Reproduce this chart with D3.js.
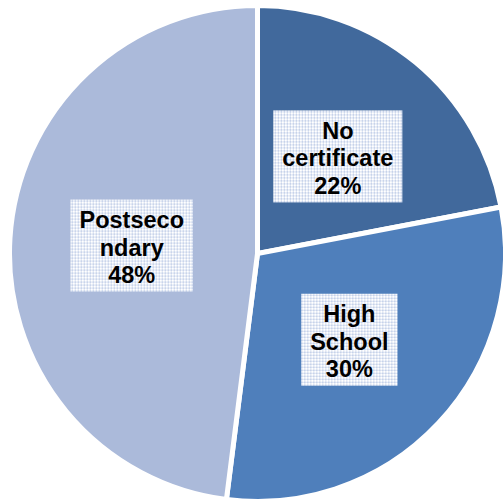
<!DOCTYPE html>
<html>
<head>
<meta charset="utf-8">
<script src="https://cdn.jsdelivr.net/npm/d3@7"></script>
<style>
  html, body { margin: 0; padding: 0; background: #fff; }
  svg { display: block; }
</style>
</head>
<body>
<svg id="chart" width="503" height="500"></svg>
<script>
// ---- data ----
const categories = ["No certificate", "High School", "Postsecondary"];
const values = [22, 30, 48];
const labelLines = [["No", "certificate", "22%"], ["High", "School", "30%"], ["Postseco", "ndary", "48%"]];
const colors = ["#41699C", "#4F7FBB", "#ABBADA"];

// ---- layout ----
const W = 503, H = 500;
const cx = 257.5, cy = 253.5, R = 248;
const svg = d3.select("#chart");

const defs = svg.append("defs");
const pat = defs.append("pattern").attr("id", "grid").attr("patternUnits", "userSpaceOnUse")
  .attr("width", 3).attr("height", 3);
pat.append("rect").attr("width", 3).attr("height", 3).attr("fill", "#ffffff");
pat.append("rect").attr("x", 0).attr("y", 0).attr("width", 3).attr("height", 1).attr("fill", "#d9e1f1");
pat.append("rect").attr("x", 0).attr("y", 0).attr("width", 1).attr("height", 3).attr("fill", "#d9e1f1");
pat.append("rect").attr("x", 0).attr("y", 0).attr("width", 1).attr("height", 1).attr("fill", "#aebfe0");

const data = categories.map((c, i) => ({ cat: c, value: values[i], lines: labelLines[i], color: colors[i] }));
const pie = d3.pie().value(d => d.value).sort(null);
const arcs = pie(data);
const arc = d3.arc().innerRadius(0).outerRadius(R);

const g = svg.append("g").attr("transform", `translate(${cx},${cy})`);
g.selectAll("path.slice").data(arcs).join("path")
  .attr("class", "slice")
  .attr("d", arc)
  .attr("fill", d => d.data.color)
  .attr("stroke", "#ffffff")
  .attr("stroke-width", 5)
  .attr("stroke-linejoin", "miter");

const labelArc = d3.arc().innerRadius(126).outerRadius(126);
const fontSize = 23.5, lineH = 27.5, padX = 9, boxH = 92;

const lg = g.selectAll("g.lbl").data(arcs).join("g").attr("class", "lbl")
  .attr("transform", d => { const [x, y] = labelArc.centroid(d); return `translate(${x},${y})`; });

lg.each(function(d) {
  const sel = d3.select(this);
  const rect = sel.append("rect").attr("fill", "url(#grid)");
  const text = sel.append("text")
    .attr("text-anchor", "middle")
    .attr("font-family", "'Liberation Sans', Arial, sans-serif")
    .attr("font-weight", "bold")
    .attr("font-size", fontSize)
    .attr("fill", "#000");
  d.data.lines.forEach((ln, i) => {
    text.append("tspan").attr("x", 0).attr("y", 10 + (i - 1) * lineH).text(ln);
  });
  const bw = text.node().getBBox().width + padX * 2;
  rect.attr("x", -bw / 2).attr("y", -boxH / 2).attr("width", bw).attr("height", boxH);
});
</script>
</body>
</html>
